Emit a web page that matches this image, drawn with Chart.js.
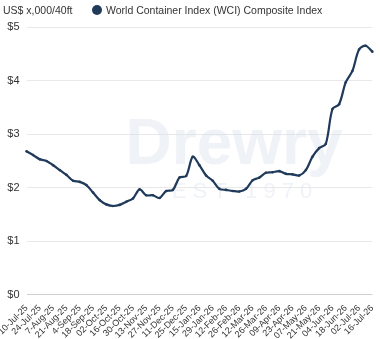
<!DOCTYPE html>
<html>
<head>
<meta charset="utf-8">
<script src="https://cdn.jsdelivr.net/npm/chart.js@4.4.1/dist/chart.umd.min.js"></script>
<style>
  html, body { margin: 0; padding: 0; background: #fff; }
  #wrap { position: relative; width: 380px; height: 339px; }
  #head { position: absolute; left: 0; top: 0; width: 380px; height: 20px; font-family: "Liberation Sans Narrow", "Liberation Sans", sans-serif; font-size: 10.5px; color: #333; }
  #unit { position: absolute; left: 3px; top: 4px; }
  #leg { position: absolute; left: 92px; top: 4px; }
  #leg .dot { display: inline-block; width: 10px; height: 10px; border-radius: 50%; background: #1f3a5a; vertical-align: -1px; margin-right: 4px; }
</style>
</head>
<body>
<div id="wrap">
  <canvas id="chart" width="380" height="339"></canvas>
  <div id="head">
    <span id="unit">US$ x,000/40ft</span>
    <span id="leg"><span class="dot"></span>World Container Index (WCI) Composite Index</span>
  </div>
</div>
<script>
// weekly WCI composite, US$ thousand per 40ft
const weeks = [
  '10-Jul-25', '17-Jul-25', '24-Jul-25', '31-Jul-25', '7-Aug-25', '14-Aug-25', '21-Aug-25', '28-Aug-25',
  '4-Sep-25', '11-Sep-25', '18-Sep-25', '25-Sep-25', '02-Oct-25', '09-Oct-25', '16-Oct-25', '23-Oct-25',
  '30-Oct-25', '06-Nov-25', '13-Nov-25', '20-Nov-25', '27-Nov-25', '04-Dec-25', '11-Dec-25', '18-Dec-25',
  '25-Dec-25', '08-Jan-26', '15-Jan-26', '22-Jan-26', '29-Jan-26', '05-Feb-26', '12-Feb-26', '19-Feb-26',
  '26-Feb-26', '05-Mar-26', '12-Mar-26', '19-Mar-26', '26-Mar-26', '02-Apr-26', '09-Apr-26', '16-Apr-26',
  '23-Apr-26', '30-Apr-26', '07-May-26', '14-May-26', '21-May-26', '28-May-26', '04-Jun-26', '11-Jun-26',
  '18-Jun-26', '25-Jun-26', '02-Jul-26', '09-Jul-26', '16-Jul-26'
];
const wci = [
  2.68, 2.61, 2.53, 2.50, 2.42, 2.33, 2.24, 2.13,
  2.11, 2.05, 1.91, 1.77, 1.69, 1.66, 1.68, 1.74,
  1.80, 1.97, 1.86, 1.86, 1.81, 1.94, 1.96, 2.19,
  2.22, 2.58, 2.42, 2.23, 2.13, 1.98, 1.96, 1.94,
  1.93, 1.98, 2.14, 2.19, 2.28, 2.29, 2.31, 2.26,
  2.25, 2.23, 2.33, 2.58, 2.74, 2.82, 3.47, 3.56,
  3.97, 4.18, 4.58, 4.65, 4.54
];
const yTicks = [0, 1, 2, 3, 4, 5];

const navy = '#1f3a5a';
const font = "'Liberation Sans Narrow', 'Liberation Sans', sans-serif";

const watermark = {
  id: 'watermark',
  beforeDatasetsDraw(chart) {
    const { ctx, chartArea } = chart;
    const cx = chartArea.left + (chartArea.right - chartArea.left) * 0.6;
    ctx.save();
    ctx.fillStyle = 'rgba(215,222,233,0.4)';
    ctx.textAlign = 'center';
    ctx.textBaseline = 'alphabetic';
    ctx.font = "bold 64px 'Liberation Sans', sans-serif";
    ctx.fillText('Drewry', cx, 164);
    ctx.font = "22px 'Liberation Sans', sans-serif";
    ctx.fillText('E S T   1 9 7 0', cx + 8, 198);
    ctx.restore();
  }
};

new Chart(document.getElementById('chart'), {
  type: 'line',
  data: {
    labels: weeks,
    datasets: [{
      label: 'World Container Index (WCI) Composite Index',
      data: wci,
      borderColor: navy,
      backgroundColor: navy,
      borderWidth: 2.2,
      pointRadius: 1.3,
      pointBackgroundColor: navy,
      pointBorderWidth: 0,
      tension: 0.3
    }]
  },
  options: {
    responsive: false,
    animation: false,
    layout: { padding: { top: 27, right: 6, left: 0, bottom: -2 } },
    plugins: {
      legend: { display: false },
      tooltip: { enabled: false }
    },
    scales: {
      x: {
        grid: { display: false },
        border: { display: false },
        ticks: {
          autoSkip: false,
          maxRotation: 45,
          minRotation: 45,
          color: '#333',
          font: { family: font, size: 9 },
          padding: 0,
          callback: function (val, i) { return i % 2 === 0 ? weeks[i] : null; }
        }
      },
      y: {
        min: 0,
        max: 5,
        afterBuildTicks: function (axis) { axis.ticks = yTicks.map(v => ({ value: v })); },
        grid: {
          color: function (c) { return c.tick && c.tick.value === 0 ? '#cfcfcf' : '#e8e8e8'; },
          drawTicks: false
        },
        border: { display: false },
        ticks: {
          color: '#333',
          padding: 7,
          font: { family: font, size: 11 },
          callback: function (v) { return '$' + v; }
        }
      }
    }
  },
  plugins: [watermark]
});
</script>
</body>
</html>
